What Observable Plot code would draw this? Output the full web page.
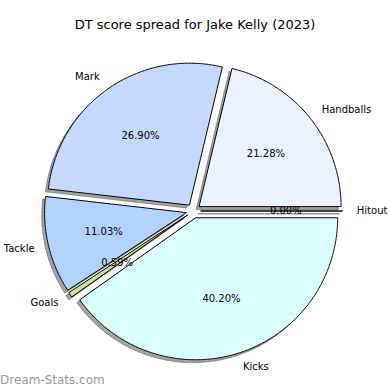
<!DOCTYPE html>
<html>
<head>
<meta charset="utf-8">
<script src="https://cdn.jsdelivr.net/npm/d3@7"></script>
<script src="https://cdn.jsdelivr.net/npm/@observablehq/plot@0.6"></script>
<style>
  html, body { margin: 0; padding: 0; background: #fff; }
  #wrap { position: relative; width: 390px; height: 390px; overflow: hidden; font-family: "DejaVu Sans", sans-serif; }
  #title { height: 50px; line-height: 50px; text-align: center; font-size: 13px; color: #000; }
  #wm { position: absolute; left: 0; top: 373px; font-size: 12px; color: #999; white-space: nowrap; }
</style>
</head>
<body>
<div id="wrap">
  <div id="title">DT score spread for Jake Kelly (2023)</div>
  <div id="chart"></div>
  <div id="wm">Dream-Stats.com</div>
</div>
<script>
const labels = ["Handballs", "Mark", "Tackle", "Goals", "Kicks", "Hitout"];
const values = [21.28, 26.90, 11.03, 0.59, 40.20, 0.00];
const colors = ["#eaf1ff", "#c5d9ff", "#b3d3ff", "#c6e38e", "#dbffff", "#f0f0f0"];
const explode = 0.05;
const shadowOffset = 0.02;

// geometry (pixels)
const W = 390, H = 340, R = 142, CX = 193, CY = 160.5;

const total = d3.sum(values);
let acc = 0;
const slices = labels.map((label, i) => {
  const a0 = acc / total * 2 * Math.PI;
  acc += values[i];
  const a1 = acc / total * 2 * Math.PI;
  const mid = (a0 + a1) / 2;
  const ox = explode * Math.cos(mid), oy = explode * Math.sin(mid);
  return {label, value: values[i], color: colors[i], a0, a1, mid, ox, oy};
});

function polygon(s, dx, dy) {
  const pts = [{label: s.label, x: s.ox + dx, y: s.oy + dy}];
  const n = Math.max(2, Math.ceil((s.a1 - s.a0) / 0.01));
  for (let k = 0; k <= n; k++) {
    const a = s.a0 + (s.a1 - s.a0) * k / n;
    pts.push({label: s.label, x: s.ox + dx + Math.cos(a), y: s.oy + dy + Math.sin(a)});
  }
  pts.push({label: s.label, x: s.ox + dx, y: s.oy + dy});
  return pts.map(p => ({...p, color: s.color}));
}

const wedgePts = slices.flatMap(s => polygon(s, 0, 0));
const shadowPts = slices.flatMap(s => polygon(s, -shadowOffset, -shadowOffset));

const labelPts = slices.map(s => {
  const x = s.ox + 1.1 * Math.cos(s.mid), y = s.oy + 1.1 * Math.sin(s.mid);
  return {label: s.label, x, y, side: x >= 0 ? "left" : "right"};
});
const pctPts = slices.map(s => ({
  text: s.value.toFixed(2) + "%",
  x: s.ox + 0.6 * Math.cos(s.mid),
  y: s.oy + 0.6 * Math.sin(s.mid)
}));

const font = "DejaVu Sans, sans-serif";
const chart = Plot.plot({
  width: W,
  height: H,
  margin: 0,
  x: {domain: [-CX / R, (W - CX) / R], axis: null},
  y: {domain: [-(H - CY) / R, CY / R], axis: null},
  color: {type: "identity"},
  style: {fontFamily: font, background: "transparent"},
  marks: [
    Plot.line(shadowPts, {x: "x", y: "y", z: "label", fill: "#4a4a4a", fillOpacity: 0.5,
      stroke: "#4a4a4a", strokeOpacity: 0.5, strokeWidth: 1, strokeLinejoin: "miter", strokeLinecap: "butt", curve: "linear"}),
    Plot.line(wedgePts, {x: "x", y: "y", z: "label", fill: "color",
      stroke: "#000", strokeWidth: 1, strokeLinejoin: "miter", strokeLinecap: "butt", curve: "linear"}),
    Plot.text(labelPts.filter(d => d.side === "left"), {x: "x", y: "y", text: "label", textAnchor: "start", fontSize: 10, fill: "#000"}),
    Plot.text(labelPts.filter(d => d.side === "right"), {x: "x", y: "y", text: "label", textAnchor: "end", fontSize: 10, fill: "#000"}),
    Plot.text(pctPts, {x: "x", y: "y", text: "text", textAnchor: "middle", fontSize: 10, fill: "#000"})
  ]
});
document.getElementById("chart").appendChild(chart);
</script>
</body>
</html>
